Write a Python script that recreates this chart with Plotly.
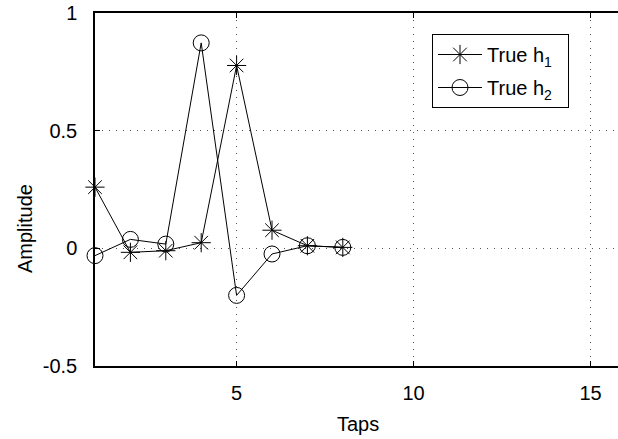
import plotly.graph_objects as go

# Filter taps and their amplitudes
taps = [1, 2, 3, 4, 5, 6, 7, 8]
h1 = [0.26, -0.017, -0.010, 0.024, 0.777, 0.077, 0.011, 0.004]
h2 = [-0.031, 0.038, 0.018, 0.873, -0.200, -0.024, 0.011, 0.004]

x_ticks = [5, 10, 15]
y_ticks = [-0.5, 0, 0.5, 1]
y_tick_text = ["-0.5", "0", "0.5", "1"]

FONT = "Liberation Sans, Arial, Helvetica, sans-serif"
FS = 20

fig = go.Figure()
fig.add_trace(go.Scatter(
    x=taps, y=h1, mode="lines+markers", name="True h<sub>1</sub>\u00a0\u00a0",
    legendgroup="h1", cliponaxis=False,
    line=dict(color="black", width=1),
    marker=dict(symbol="asterisk-open", size=16, color="black",
                line=dict(color="black", width=1)),
))
fig.add_trace(go.Scatter(
    x=taps, y=h2, mode="lines+markers", name="True h<sub>2</sub>\u00a0\u00a0",
    legendgroup="h2", cliponaxis=False,
    line=dict(color="black", width=1),
    marker=dict(symbol="circle-open", size=16, color="black",
                line=dict(color="black", width=1)),
))

W, H = 618, 439
L, R, T, B = 95, 0, 13, 73
pw, ph = W - L - R, H - T - B

def px_x(p):
    return (p - L) / pw

def px_y(p):
    return 1 - (p - T) / ph

fig.update_layout(
    width=W, height=H,
    margin=dict(l=L, r=R, t=T, b=B),
    paper_bgcolor="white", plot_bgcolor="white",
    font=dict(family=FONT, size=FS, color="black"),
    showlegend=True,
    legend=dict(
        x=px_x(432), y=px_y(34), xanchor="left", yanchor="top",
        bordercolor="black", borderwidth=1, bgcolor="white",
        font=dict(family=FONT, size=FS, color="black"),
        itemwidth=44, tracegroupgap=4,
    ),
    xaxis=dict(
        range=[1, 1 + (W - L - R) / 35.4],
        tickmode="array", tickvals=x_ticks,
        ticks="inside", ticklen=5, tickcolor="black",
        showline=True, linecolor="black", linewidth=1.5, mirror="ticks",
        showgrid=True, gridcolor="#555", gridwidth=1, griddash="1px,6px",
        zeroline=False, ticklabelstandoff=8,
    ),
    yaxis=dict(
        range=[-0.5, 1],
        tickmode="array", tickvals=y_ticks, ticktext=y_tick_text,
        ticks="inside", ticklen=5, tickcolor="black",
        showline=True, linecolor="black", linewidth=1.5,
        showgrid=True, gridcolor="#555", gridwidth=1, griddash="1px,6px",
        zeroline=False, ticklabelstandoff=12,
    ),
    annotations=[
        dict(text="Taps", xref="paper", yref="paper",
             x=px_x(358), y=px_y(424), xanchor="center", yanchor="middle",
             showarrow=False, font=dict(family=FONT, size=FS)),
        dict(text="Amplitude", xref="paper", yref="paper",
             x=px_x(25), y=px_y(229), xanchor="center", yanchor="middle",
             textangle=-90, showarrow=False, font=dict(family=FONT, size=FS)),
    ],
)

fig.write_html("out.html")
